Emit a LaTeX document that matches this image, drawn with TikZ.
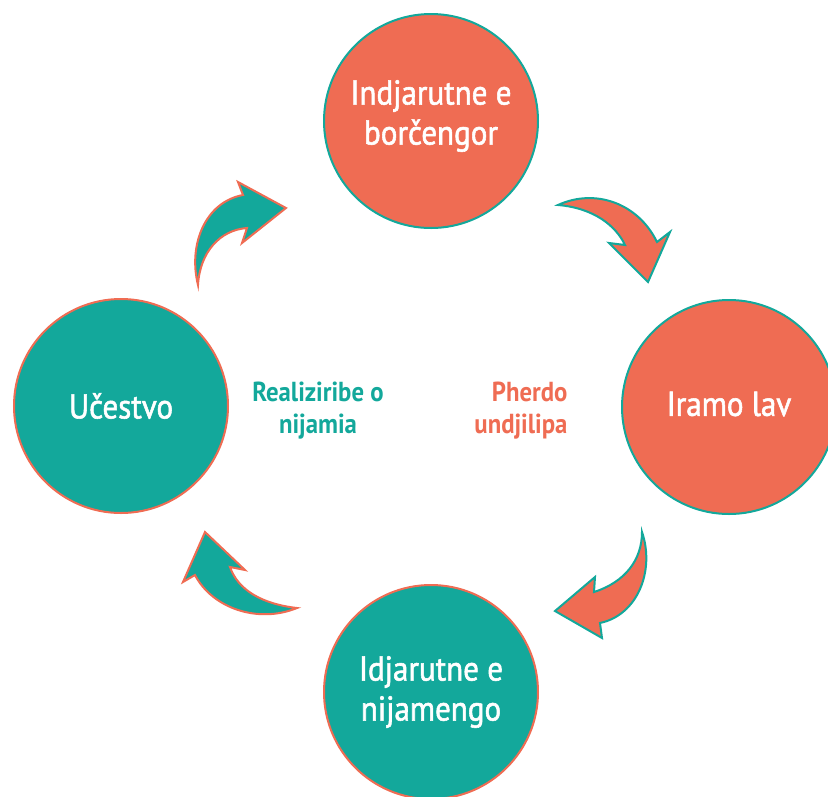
\documentclass[tikz,border=0pt]{standalone}
\usepackage{fontspec}
\setmainfont{PT Sans}[FakeStretch=0.9]
\newfontfamily\circfont{PT Sans}[FakeStretch=0.9,FakeBold=1.6]
\definecolor{orng}{HTML}{EF6C53}
\definecolor{teal}{HTML}{13A89B}
\begin{document}
\begin{tikzpicture}[x=1pt,y=-1pt,
  bubble/.style={circle,minimum size=214pt,inner sep=0pt,line width=2pt,align=center,text=white,font=\circfont\fontsize{34.5}{40}\selectfont},
  obub/.style={bubble,fill=orng,draw=teal},
  tbub/.style={bubble,fill=teal,draw=orng},
  ctext/.style={text=white,align=center,font=\circfont\fontsize{34.5}{40}\selectfont},
  oarrow/.style={fill=orng,draw=teal,line width=2pt,line join=miter},
  tarrow/.style={fill=teal,draw=orng,line width=2pt,line join=miter},
  mid/.style={font=\fontsize{27.5}{32}\selectfont\bfseries}]
\useasboundingbox (0,0) rectangle (828,796);
\node[obub] (top) at (431,121) {};
\node[ctext] (toptext) at (431,116) {Indjarutne e\\borčengor};
\node[obub] (right) at (729,407) {};
\node[ctext] (righttext) at (729,404) {Iramo lav};
\node[tbub] (left) at (121,406) {Učestvo};
\node[tbub] (bottom) at (431,692) {Idjarutne e\\nijamengo};
\node[mid,text=teal,align=center] (lt) at (318,411) {Realiziribe o\\nijamia};
\node[mid,text=orng,align=right,anchor=east] (rt) at (571,411) {Pherdo\\undjilipa};
% top-right arrow
\draw[oarrow] (558,205) .. controls (595,188) and (638,203) .. (657,242)
  -- (670,232) -- (648,282) -- (609,243) -- (625,245)
  .. controls (616,226) and (594,208) .. cycle;
% top-left arrow
\draw[tarrow] (198,285) .. controls (188,245) and (205,202) .. (243,195)
  -- (238,182) -- (286,208) -- (242,243) -- (247,228)
  .. controls (220,230) and (200,252) .. cycle;
% bottom-left arrow
\draw[tarrow] (297,608) .. controls (258,624) and (212,608) .. (195,575)
  -- (183,582) -- (205,532) -- (245,570) -- (230,567)
  .. controls (238,590) and (262,604) .. cycle;
% bottom-right arrow
\draw[oarrow] (642,532) .. controls (655,570) and (638,615) .. (600,623)
  -- (602,638) -- (555,611) -- (595,577) -- (594,592)
  .. controls (625,582) and (642,560) .. cycle;
\end{tikzpicture}
\end{document}
